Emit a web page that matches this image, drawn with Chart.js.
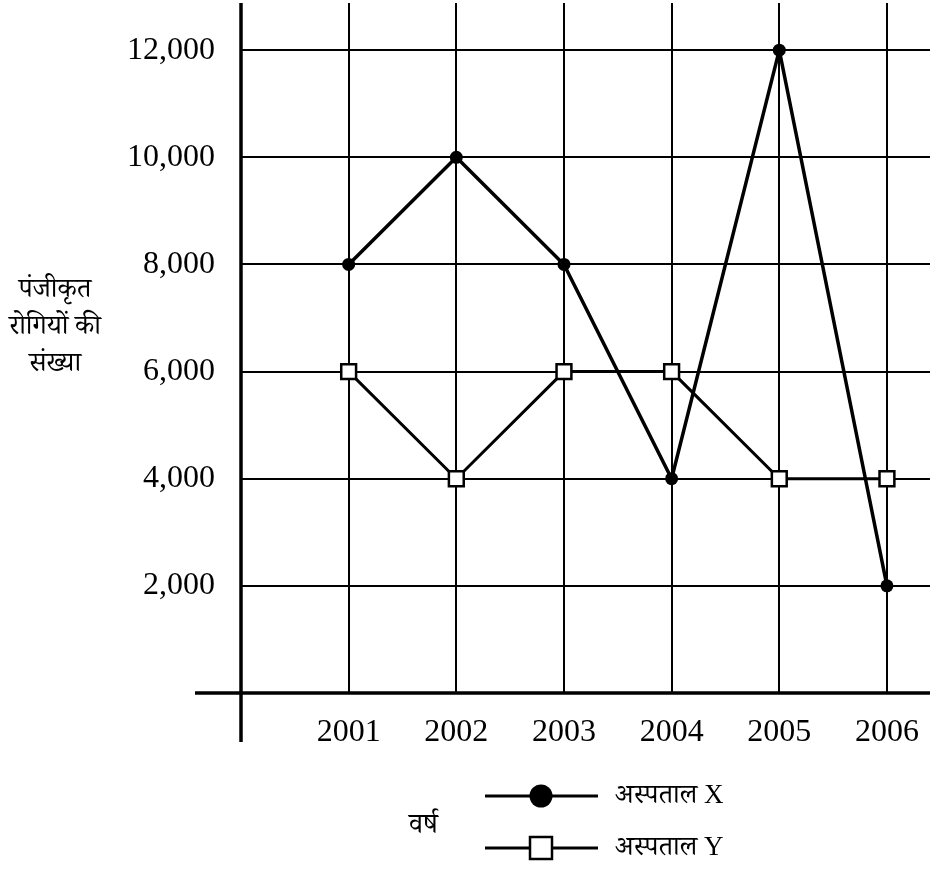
<!DOCTYPE html>
<html>
<head>
<meta charset="utf-8">
<script src="https://cdn.jsdelivr.net/npm/chart.js@4/dist/chart.umd.min.js"></script>
<style>
html,body{margin:0;padding:0;background:#fff;}
#wrap{width:930px;height:896px;position:relative;}
</style>
</head>
<body>
<div id="wrap"><canvas id="c" width="930" height="896"></canvas></div>
<script>
const years = [2001, 2002, 2003, 2004, 2005, 2006];
const hospitalX = [8000, 10000, 8000, 4000, 12000, 2000];
const hospitalY = [6000, 4000, 6000, 6000, 4000, 4000];
const yTickValues = [0, 2000, 4000, 6000, 8000, 10000, 12000];
const seriesLabels = ['अस्पताल X', 'अस्पताल Y'];
const yTitleLines = ['पंजीकृत', 'रोगियों की', 'संख्या'];
const xTitle = 'वर्ष';

const serif = "'Liberation Serif', 'Times New Roman', 'Noto Serif Devanagari', 'Noto Sans Devanagari', serif";

const extras = {
  id: 'extras',
  beforeDatasetsDraw(chart) {
    const ctx = chart.ctx;
    const xs = chart.scales.x, ys = chart.scales.y;
    const x0 = xs.getPixelForValue(xs.min);
    const y0 = ys.getPixelForValue(0);
    ctx.save();
    ctx.strokeStyle = '#000';
    ctx.lineWidth = 3.5;
    ctx.beginPath();
    ctx.moveTo(x0, chart.chartArea.top);
    ctx.lineTo(x0, y0 + 49);
    ctx.stroke();
    ctx.beginPath();
    ctx.moveTo(x0 - 46, y0);
    ctx.lineTo(chart.chartArea.right, y0);
    ctx.stroke();
    ctx.restore();
  },
  afterDraw(chart) {
    const ctx = chart.ctx;
    ctx.save();
    ctx.fillStyle = '#000';
    ctx.font = "27px " + serif;
    ctx.textAlign = 'center';
    ctx.textBaseline = 'middle';
    yTitleLines.forEach((t, i) => ctx.fillText(t, 55, 290 + i * 37));
    ctx.font = "28px " + serif;
    ctx.textAlign = 'left';
    ctx.fillText(xTitle, 409, 826);
    chart.data.datasets.forEach((ds, i) => {
      const y = 796 + i * 52;
      ctx.strokeStyle = '#000';
      ctx.lineWidth = 3;
      ctx.beginPath();
      ctx.moveTo(485, y);
      ctx.lineTo(598, y);
      ctx.stroke();
      const mx = 541;
      if (ds.pointStyle === 'circle') {
        ctx.beginPath();
        ctx.arc(mx, y, 11.5, 0, Math.PI * 2);
        ctx.fillStyle = '#000';
        ctx.fill();
      } else {
        ctx.fillStyle = '#fff';
        ctx.fillRect(mx - 11, y - 11, 22, 22);
        ctx.lineWidth = 2.5;
        ctx.strokeRect(mx - 11, y - 11, 22, 22);
      }
      ctx.fillStyle = '#000';
      ctx.font = "27px " + serif;
      ctx.textAlign = 'left';
      ctx.textBaseline = 'middle';
      ctx.fillText(ds.label, 615, y);
    });
    ctx.restore();
  }
};

new Chart(document.getElementById('c'), {
  type: 'line',
  data: {
    datasets: [
      {
        label: seriesLabels[0],
        data: years.map((yr, i) => ({x: yr, y: hospitalX[i]})),
        borderColor: '#000',
        borderWidth: 3.5,
        pointStyle: 'circle',
        pointRadius: 6.5,
        pointBackgroundColor: '#000',
        pointBorderColor: '#000',
        pointBorderWidth: 0,
        tension: 0
      },
      {
        label: seriesLabels[1],
        data: years.map((yr, i) => ({x: yr, y: hospitalY[i]})),
        borderColor: '#000',
        borderWidth: 3,
        pointStyle: 'rect',
        pointRadius: 10.5,
        pointBackgroundColor: '#fff',
        pointBorderColor: '#000',
        pointBorderWidth: 2.5,
        tension: 0
      }
    ]
  },
  options: {
    responsive: false,
    animation: false,
    layout: {autoPadding: false, padding: {top: 3, left: 0, right: 0, bottom: 0}},
    plugins: {legend: {display: false}, tooltip: {enabled: false}},
    scales: {
      x: {
        type: 'linear',
        min: 2000,
        max: 2006.4,
        grid: {color: '#000', lineWidth: 2, drawTicks: false},
        border: {display: false},
        afterBuildTicks: s => { s.ticks = years.map(v => ({value: v})); },
        ticks: {
          autoSkip: false,
          maxRotation: 0,
          padding: 20,
          color: '#000',
          font: {family: serif, size: 32},
          callback: v => String(v)
        },
        afterFit: s => { s.height = 203; s.paddingLeft = 0; s.paddingRight = 0; }
      },
      y: {
        min: 0,
        max: 12880,
        grid: {color: '#000', lineWidth: 2, drawTicks: false},
        border: {display: false},
        afterBuildTicks: s => { s.ticks = yTickValues.map(v => ({value: v})); },
        ticks: {
          autoSkip: false,
          padding: 26,
          color: '#000',
          font: {family: serif, size: 32},
          callback: v => v === 0 ? '' : v.toLocaleString('en-US')
        },
        afterFit: s => { s.width = 241; s.paddingTop = 0; s.paddingBottom = 0; }
      }
    }
  },
  plugins: [extras]
});
</script>
</body>
</html>
